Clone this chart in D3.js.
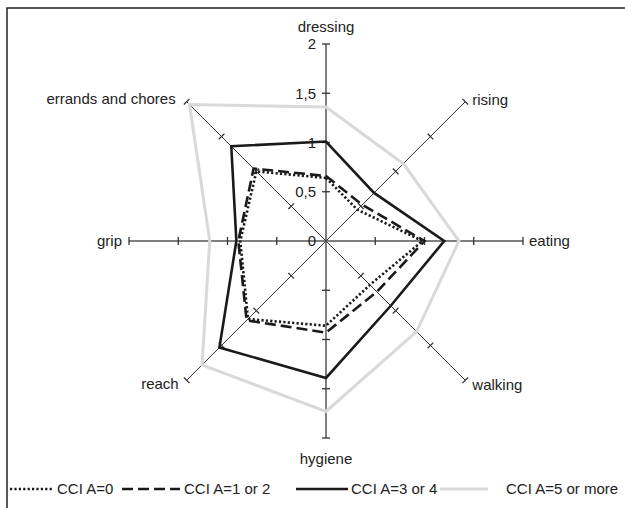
<!DOCTYPE html>
<html>
<head>
<meta charset="utf-8">
<script src="https://cdn.jsdelivr.net/npm/d3@7"></script>
<style>
  body { margin: 0; background: #fff; }
  text { font-family: "Liberation Sans", Arial, sans-serif; fill: #222; }
</style>
</head>
<body>
<svg width="625" height="508"></svg>
<script>
// axes, clockwise from the top
var axes = ['dressing', 'rising', 'eating', 'walking', 'hygiene', 'reach', 'grip', 'errands and chores'];
var tickValues = [0, 0.5, 1, 1.5, 2];
var tickLabels = ['0', '0,5', '1', '1,5', '2'];

var seriesNames = ['CCI A=5 or more', 'CCI A=3 or 4', 'CCI A=1 or 2', 'CCI A=0'];
var cci5 = [1.36, 1.11, 1.35, 1.30, 1.73, 1.78, 1.18, 1.96];
var cci34 = [1.01, 0.69, 1.20, 0.93, 1.39, 1.53, 0.91, 1.36];
var cci12 = [0.66, 0.52, 1.00, 0.73, 0.93, 1.14, 0.89, 1.04];
var cci0 = [0.64, 0.45, 0.98, 0.63, 0.86, 1.12, 0.87, 1.00];

var svg = d3.select('svg');
var cx = 326, cy = 241;
var r = d3.scaleLinear().domain([0, 2]).range([0, 197]);
var angle = d3.scalePoint().domain(axes).range([0, 2 * Math.PI * 7 / 8]);

function pt(axis, v) {
    var a = angle(axis);
    return [cx + r(v) * Math.sin(a), cy - r(v) * Math.cos(a)];
}

// frame
svg.append('path')
    .attr('d', 'M7,508 L7,8 L625,8')
    .attr('fill', 'none').attr('stroke', '#222').attr('stroke-width', 1.5);

// axis lines
axes.forEach(function(ax, i) {
    var e = pt(ax, 2);
    svg.append('line')
        .attr('x1', cx).attr('y1', cy).attr('x2', e[0]).attr('y2', e[1])
        .attr('stroke', i % 2 == 0 ? '#555' : '#333')
        .attr('stroke-width', i % 2 == 0 ? 1.5 : 1);
    tickValues.slice(1).forEach(function(t) {
        var p = pt(ax, t);
        var a = angle(ax);
        var dx = 4 * Math.cos(a), dy = 4 * Math.sin(a);
        svg.append('line')
            .attr('x1', p[0] - dx).attr('y1', p[1] - dy)
            .attr('x2', p[0] + dx).attr('y2', p[1] + dy)
            .attr('stroke', '#333').attr('stroke-width', 1.3);
    });
});

// tick labels on dressing axis
tickValues.forEach(function(t, i) {
    svg.append('text')
        .attr('x', cx - 10).attr('y', cy - r(t)).attr('dy', '0.35em')
        .attr('text-anchor', 'end').attr('font-size', 15)
        .text(tickLabels[i]);
});

// axis labels
var labelPos = {
    'dressing': [0, -17, 'middle'],
    'rising': [7, -2, 'start'],
    'eating': [6, 0, 'start'],
    'walking': [7, 4, 'start'],
    'hygiene': [0, 21, 'middle'],
    'reach': [-8, 3, 'end'],
    'grip': [-7, 0, 'end'],
    'errands and chores': [-11, -3, 'end']
};
axes.forEach(function(ax) {
    var e = pt(ax, 2), o = labelPos[ax];
    svg.append('text')
        .attr('x', e[0] + o[0]).attr('y', e[1] + o[1]).attr('dy', '0.35em')
        .attr('text-anchor', o[2]).attr('font-size', 15)
        .text(ax);
});

// series
var styles = [
    { stroke: '#d9d9d9', width: 3, dash: null },
    { stroke: '#1a1a1a', width: 2.6, dash: null },
    { stroke: '#1a1a1a', width: 2.6, dash: '11,5' },
    { stroke: '#1a1a1a', width: 2.6, dash: '2.2,2.2' }
];
var data = [cci5, cci34, cci12, cci0];
var line = d3.line().curve(d3.curveLinearClosed);
data.forEach(function(vals, k) {
    var pts = axes.map(function(ax, i) { return pt(ax, vals[i]); });
    svg.append('path')
        .attr('d', line(pts))
        .attr('fill', 'none')
        .attr('stroke', styles[k].stroke)
        .attr('stroke-width', styles[k].width)
        .attr('stroke-dasharray', styles[k].dash)
        .attr('stroke-linejoin', 'miter');
});

// legend
var legendY = 489;
var legendItems = [
    { k: 3, x1: 10, x2: 54, tx: 57 },
    { k: 2, x1: 122, x2: 180, tx: 184 },
    { k: 1, x1: 296, x2: 348, tx: 351 },
    { k: 0, x1: 440, x2: 488, tx: 506 }
];
legendItems.forEach(function(it) {
    var s = styles[it.k];
    svg.append('line')
        .attr('x1', it.x1).attr('x2', it.x2).attr('y1', legendY).attr('y2', legendY)
        .attr('stroke', s.stroke).attr('stroke-width', s.width)
        .attr('stroke-dasharray', s.dash);
    svg.append('text')
        .attr('x', it.tx).attr('y', legendY).attr('dy', '0.35em')
        .attr('font-size', 15)
        .text(seriesNames[it.k]);
});
</script>
</body>
</html>
